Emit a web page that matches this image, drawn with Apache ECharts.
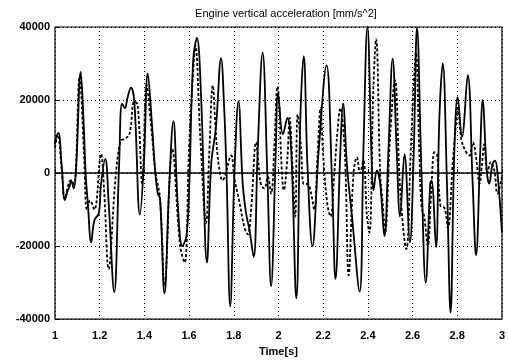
<!DOCTYPE html>
<html>
<head>
<meta charset="utf-8">
<script src="https://cdn.jsdelivr.net/npm/echarts@6/dist/echarts.min.js"></script>
<style>
  html, body { margin: 0; padding: 0; background: #fff; }
  #chart { width: 508px; height: 362px; }
</style>
</head>
<body>
<div id="chart"></div>
<script>
// measured (solid) trace
var solidTime = [1.0, 1.004, 1.015, 1.03, 1.044, 1.056, 1.066, 1.072, 1.084, 1.095, 1.115, 1.128, 1.137, 1.147, 1.162, 1.176, 1.196, 1.206, 1.225, 1.24, 1.265, 1.287, 1.3, 1.313, 1.324, 1.34, 1.355, 1.38, 1.398, 1.415, 1.434, 1.449, 1.46, 1.47, 1.49, 1.51, 1.53, 1.55, 1.57, 1.588, 1.6, 1.618, 1.635, 1.654, 1.68, 1.699, 1.72, 1.743, 1.757, 1.768, 1.784, 1.803, 1.821, 1.84, 1.855, 1.87, 1.889, 1.907, 1.929, 1.95, 1.967, 1.988, 1.998, 2.02, 2.04, 2.057, 2.08, 2.098, 2.113, 2.13, 2.152, 2.18, 2.215, 2.24, 2.255, 2.277, 2.289, 2.307, 2.329, 2.363, 2.38, 2.398, 2.418, 2.425, 2.44, 2.455, 2.474, 2.492, 2.511, 2.529, 2.544, 2.564, 2.588, 2.605, 2.62, 2.64, 2.659, 2.679, 2.685, 2.705, 2.72, 2.735, 2.754, 2.77, 2.787, 2.802, 2.821, 2.847, 2.869, 2.884, 2.903, 2.913, 2.933, 2.943, 2.958, 2.969, 2.98, 3.0];
var solidValue = [8000, 9500, 11000, 2000, -7400, -5000, -3500, -2000, -4200, 2000, 27700, 14000, 0, -8300, -19000, -13000, -11000, -3000, 3900, -8000, -32600, 2500, 19000, 17800, 20500, 23400, 19500, -11400, 3000, 27300, 13300, 0, -5600, -7000, -33000, -5000, 14200, -9200, -20000, -17300, -5000, 30500, 37000, 20500, -24500, 2500, 12400, 31500, 17800, -1000, -36500, 0, 19600, -2900, -11000, -15500, -23000, 6100, 33000, 0, -31000, 6100, 21800, 10600, 15100, 6100, -34300, 15100, 32000, 1600, -20000, 6100, 29500, -2900, -29000, 6100, 19100, 1600, -11900, -32500, 6100, 40000, 1600, -4700, 700, -2900, -17300, 6100, 31300, 6100, -11900, 5200, -19000, 5000, 39800, 0, -30000, -2900, -2000, -20300, 15100, 30000, -2900, -38200, 6100, 20800, 9900, 26800, -2900, -22500, 6100, 20000, 0, -2900, 2500, 3400, 0, -16300];

// model (dashed) trace
var dashTime = [1.0, 1.012, 1.03, 1.044, 1.07, 1.085, 1.11, 1.13, 1.143, 1.157, 1.176, 1.206, 1.22, 1.24, 1.27, 1.293, 1.31, 1.333, 1.355, 1.37, 1.39, 1.41, 1.43, 1.45, 1.47, 1.49, 1.525, 1.56, 1.58, 1.6, 1.62, 1.628, 1.65, 1.676, 1.69, 1.706, 1.72, 1.734, 1.75, 1.765, 1.778, 1.789, 1.803, 1.825, 1.848, 1.863, 1.878, 1.9, 1.907, 1.922, 1.937, 1.952, 1.967, 1.981, 1.996, 2.004, 2.012, 2.024, 2.04, 2.05, 2.062, 2.075, 2.086, 2.1, 2.114, 2.13, 2.144, 2.16, 2.175, 2.188, 2.2, 2.218, 2.233, 2.25, 2.265, 2.277, 2.29, 2.3, 2.314, 2.336, 2.351, 2.365, 2.38, 2.396, 2.407, 2.425, 2.437, 2.455, 2.466, 2.477, 2.5, 2.521, 2.545, 2.572, 2.592, 2.605, 2.615, 2.63, 2.64, 2.652, 2.668, 2.684, 2.698, 2.71, 2.725, 2.743, 2.758, 2.78, 2.795, 2.803, 2.818, 2.84, 2.855, 2.87, 2.884, 2.9, 2.91, 2.921, 2.935, 2.95, 2.966, 2.98, 3.0];
var dashValue = [7000, 10500, 1000, -7000, -2000, -3000, 26400, 5000, -10000, -7500, -10000, 5200, -5000, -26300, -2000, 8800, 9300, 10600, 19600, 18700, -2900, 24100, 13000, 0, -7000, -30800, 6500, -20000, -24500, 7000, 29500, 35000, 10000, -13700, 5000, 24000, 10600, 1600, -2000, 0, 3400, 4800, -1500, -7800, -15000, -16800, -9600, 8400, 5000, -3300, -4200, -1000, -5600, 6600, 23700, 18700, 4300, -4700, 4300, 15100, 3000, -12000, 16000, 8000, -3000, -3000, -5000, -10000, 5000, 17800, 5000, -8300, -11900, 0, 12000, 17800, 12000, 700, -28000, 0, 4300, 0, 3400, -11900, -16300, 24000, 36700, 0, -8000, -16300, 10600, 25400, -5000, -20800, 6100, 24000, 33000, 6100, -9200, -11900, -20000, -4700, 5700, 5000, -9000, -9600, -15000, 3000, 13800, 18300, 9300, 5700, 4800, 8400, 4300, -2900, 2000, 7900, 0, 3000, 700, -5600, -1000];

var yTicks = [-40000, -20000, 0, 20000, 40000];
var xTicks = [1, 1.2, 1.4, 1.6, 1.8, 2, 2.2, 2.4, 2.6, 2.8, 3];

function zip(t, v) {
    var out = [];
    for (var i = 0; i < t.length; i++) out.push([t[i], v[i]]);
    return out;
}

var myChart = echarts.init(document.getElementById('chart'));
var option = {
    animation: false,
    backgroundColor: '#fff',
    title: {
        text: 'Engine vertical acceleration [mm/s^2]',
        left: 281,
        textAlign: 'center',
        top: 3,
        textStyle: {
            fontFamily: 'Liberation Sans',
            fontSize: 11,
            fontWeight: 'normal',
            color: '#000'
        }
    },
    grid: {
        left: 55,
        right: 2,
        top: 27,
        bottom: 40,
        show: true,
        borderColor: '#000',
        borderWidth: 1.2
    },
    xAxis: {
        type: 'value',
        min: xTicks[0],
        max: xTicks[xTicks.length - 1],
        interval: 0.2,
        name: 'Time[s]',
        nameLocation: 'middle',
        nameGap: 26,
        nameTextStyle: {
            fontFamily: 'Liberation Sans',
            fontSize: 11,
            fontWeight: 'bold',
            color: '#000'
        },
        axisLine: { show: false },
        axisTick: { show: true, inside: true, length: 4, lineStyle: { color: '#000' } },
        axisLabel: {
            margin: 11,
            fontFamily: 'Liberation Sans',
            fontSize: 11,
            fontWeight: 'bold',
            color: '#000',
            formatter: function (v) {
                return String(Math.round(v * 10) / 10);
            }
        },
        splitLine: {
            show: true,
            lineStyle: { color: '#000', type: [1, 3], width: 1 }
        }
    },
    yAxis: {
        type: 'value',
        min: yTicks[0],
        max: yTicks[yTicks.length - 1],
        interval: 20000,
        axisLine: { show: false },
        axisTick: { show: true, inside: true, length: 4, lineStyle: { color: '#000' } },
        axisLabel: {
            margin: 5,
            fontFamily: 'Liberation Sans',
            fontSize: 11,
            fontWeight: 'bold',
            color: '#000',
            formatter: function (v) {
                return String(v);
            }
        },
        splitLine: {
            show: true,
            lineStyle: { color: '#000', type: [1, 3], width: 1 }
        }
    },
    series: [{
        type: 'line',
        data: zip(dashTime, dashValue),
        smooth: 0.4,
        showSymbol: false,
        lineStyle: { color: '#000', width: 1.8, type: [3, 2] },
        z: 2
    }, {
        type: 'line',
        data: zip(solidTime, solidValue),
        smooth: 0.4,
        showSymbol: false,
        lineStyle: { color: '#000', width: 1.8 },
        z: 3,
        markLine: {
            silent: true,
            symbol: 'none',
            label: { show: false },
            lineStyle: { color: '#000', width: 1.5, type: 'solid' },
            data: [{ yAxis: 0 }]
        }
    }]
};
myChart.setOption(option, true);
</script>
</body>
</html>
